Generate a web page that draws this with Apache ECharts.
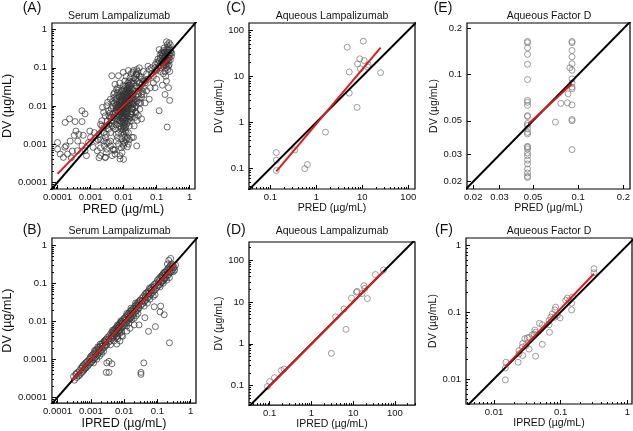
<!DOCTYPE html>
<html><head><meta charset="utf-8">
<script src="https://cdn.jsdelivr.net/npm/echarts@6/dist/echarts.min.js"></script>
<style>html,body{margin:0;padding:0;background:#fff}#c{width:633px;height:431px}</style>
</head><body><div id="c"></div>
<script>
// ---------------- DATA ([predicted, observed] in µg/mL) ----------------
const serumPredDv = [
[0.12,0.15],[0.15,0.2],[0.18,0.25],[0.2,0.3],[0.22,0.18],[0.25,0.22],[0.17,0.12],[0.14,0.1],[0.19,0.14],[0.21,0.4],[0.23,0.35],[0.16,0.28],[0.13,0.22],[0.11,0.13],[0.1,0.09],[0.24,0.12],[0.26,0.16],[0.28,0.2],[0.2,0.1],[0.18,0.08],[0.15,0.16],[0.17,0.18],[0.19,0.2],[0.22,0.25],[0.21,0.13],[0.16,0.11],[0.14,0.14],[0.12,0.11],[0.25,0.3],[0.27,0.28],[0.23,0.15],[0.2,0.22],[0.18,0.16],[0.13,0.18],[0.11,0.17],[0.09,0.12],[0.1,0.14],[0.15,0.13],[0.24,0.45],[0.2,0.48],[0.26,0.4],[0.17,0.33],[0.14,0.25],[0.12,0.3],[0.22,0.09],[0.25,0.08],[0.16,0.07],[0.19,0.06],[0.13,0.08],[0.29,0.24],
[0.17,0.15],[0.19,0.17],[0.21,0.19],[0.23,0.21],[0.18,0.2],[0.2,0.26],[0.22,0.3],[0.16,0.22],[0.15,0.24],[0.24,0.18],[0.26,0.25],[0.21,0.16],[0.17,0.25],[0.19,0.12],[0.23,0.11],
[0.2,0.045],[0.23,0.03],[0.25,0.014],[0.18,0.02],[0.21,0.0028],[0.12,0.0075],[0.15,0.035],[0.1,0.05],[0.08,0.06],[0.09,0.03],
[0.03,0.06],[0.04,0.08],[0.05,0.07],[0.035,0.05],[0.06,0.09],[0.045,0.04],[0.07,0.1],[0.025,0.07],[0.03,0.04],[0.055,0.05],[0.065,0.03],[0.04,0.03],[0.05,0.025],[0.08,0.04],[0.06,0.015],[0.045,0.012],[0.035,0.02],[0.025,0.09],[0.02,0.085],[0.03,0.1],[0.055,0.11],[0.07,0.07],[0.09,0.1],[0.1,0.085],
[0.004,0.002],[0.0045,0.003],[0.005,0.004],[0.0042,0.005],[0.0055,0.007],[0.006,0.008],[0.0048,0.01],[0.0052,0.012],[0.0058,0.015],[0.005,0.02],[0.0044,0.0035],[0.0056,0.0025],[0.0047,0.006],[0.006,0.009],
[0.0065,0.0015],[0.007,0.002],[0.0075,0.003],[0.008,0.004],[0.0085,0.005],[0.0068,0.006],[0.0072,0.007],[0.0078,0.008],[0.0082,0.01],[0.0088,0.012],[0.0062,0.014],[0.0074,0.017],[0.008,0.02],[0.0086,0.025],[0.0066,0.03],[0.0076,0.04],[0.0084,0.0025],[0.009,0.0045],[0.007,0.009],[0.0064,0.011],
[0.0095,0.001],[0.01,0.0012],[0.011,0.0015],[0.012,0.002],[0.0098,0.003],[0.0105,0.004],[0.0115,0.005],[0.0125,0.006],[0.0092,0.007],[0.0102,0.008],[0.0112,0.009],[0.0122,0.01],[0.0096,0.011],[0.0108,0.012],[0.0118,0.014],[0.0128,0.016],[0.0094,0.018],[0.0104,0.02],[0.0114,0.025],[0.0124,0.03],[0.01,0.035],[0.011,0.045],[0.012,0.06],[0.0097,0.0035],[0.0107,0.0055],[0.0117,0.013],
[0.013,0.0015],[0.014,0.002],[0.015,0.003],[0.016,0.004],[0.017,0.005],[0.018,0.006],[0.019,0.008],[0.0135,0.01],[0.0145,0.012],[0.0155,0.015],[0.0165,0.018],[0.0175,0.022],[0.0185,0.028],[0.0138,0.035],[0.0148,0.045],[0.0158,0.055],[0.0168,0.07],[0.0178,0.007],[0.0188,0.009],[0.0195,0.025],
[0.021,0.003],[0.022,0.005],[0.023,0.007],[0.024,0.01],[0.025,0.013],[0.026,0.017],[0.027,0.02],[0.028,0.025],[0.029,0.03],[0.021,0.04],[0.023,0.05],[0.025,0.065],[0.027,0.08],[0.029,0.012],[0.022,0.015],
[0.0071,0.0052],[0.0081,0.0065],[0.0091,0.0078],[0.0101,0.0062],[0.0111,0.0072],[0.0121,0.0085],[0.0131,0.0068],[0.0141,0.0082],[0.0079,0.0105],[0.0089,0.0135],[0.0099,0.015],[0.0109,0.017],[0.0119,0.019],[0.0129,0.022],[0.0139,0.026],[0.0073,0.0125],[0.0083,0.0145],[0.0093,0.0165],[0.0103,0.0095],[0.0113,0.011],[0.0123,0.0125],[0.0133,0.0145],[0.0143,0.0175],[0.0153,0.02],[0.0087,0.0038],[0.0097,0.0045],[0.0107,0.0032],[0.0117,0.0042],[0.0127,0.0048],[0.0137,0.0055],[0.0077,0.0035],[0.0069,0.0042],[0.0061,0.0055],[0.0057,0.0065],[0.0063,0.0078],[0.0067,0.0095],[0.0105,0.028],[0.0115,0.033],[0.0095,0.024],[0.0085,0.018],[0.0135,0.04],[0.0145,0.03],[0.016,0.035],[0.017,0.028],[0.018,0.013],[0.019,0.016],[0.02,0.02],[0.02,0.011],
[0.0074,0.0058],[0.0084,0.0072],[0.0094,0.0088],[0.0104,0.0108],[0.0114,0.0125],[0.0124,0.014],[0.0134,0.0165],[0.0091,0.0055],[0.0101,0.0048],[0.0111,0.0062],[0.0121,0.0072],[0.0131,0.0088],[0.0141,0.0102],[0.0151,0.0118],[0.0161,0.0135],[0.0078,0.0135],[0.0088,0.0155],[0.0098,0.0185],[0.0108,0.0215],[0.0118,0.0245],[0.0128,0.0275],[0.0082,0.0085],[0.0092,0.0095],[0.0102,0.0118],[0.0112,0.0142],[0.0122,0.0162],[0.0132,0.0195],[0.0142,0.023],[0.0152,0.027],[0.0162,0.024],[0.0172,0.017],[0.0182,0.019],[0.0192,0.012],[0.0068,0.0075],[0.0072,0.0095],[0.0076,0.0115],[0.0086,0.0028],[0.0096,0.0024],[0.0106,0.0026],[0.0116,0.0028],[0.0126,0.0034],[0.0136,0.0038],[0.0146,0.0045],[0.0156,0.0052],[0.0166,0.0062],[0.0176,0.0085],[0.0186,0.011],[0.0196,0.014],[0.0093,0.0021],[0.0103,0.0018],[0.0113,0.0022],[0.0089,0.0065],[0.0099,0.0072],[0.0109,0.0082],[0.0119,0.0095],[0.0129,0.011],
[0.0042,0.0085],[0.0046,0.013],[0.0051,0.0165],[0.0054,0.0048],[0.0059,0.0032],[0.0053,0.022],[0.0049,0.0028],[0.0043,0.0042],[0.0039,0.0065],[0.0036,0.0033],[0.0058,0.0105],[0.0062,0.0185],[0.0066,0.0225],[0.0071,0.026],[0.0064,0.0045],[0.0023,0.0092],[0.0028,0.0055],[0.0033,0.0125],
[0.022,0.009],[0.024,0.0065],[0.026,0.0042],[0.031,0.0082],[0.033,0.012],[0.035,0.017],[0.038,0.024],[0.032,0.03],[0.036,0.037],[0.04,0.045],[0.042,0.02],[0.03,0.015],[0.028,0.0056],[0.024,0.033],[0.021,0.055],[0.019,0.045],[0.026,0.044],[0.018,0.038],[0.017,0.042],[0.015,0.024],
[0.0055,0.037],[0.0061,0.027],[0.004,0.015],[0.0031,0.0101],[0.0025,0.0068],[0.0036,0.0056],[0.0044,0.062],[0.007,0.062],[0.0098,0.076],[0.014,0.085],[0.019,0.076],[0.024,0.068],[0.034,0.056],[0.044,0.046],
[0.002,0.0008],[0.003,0.0006],[0.004,0.0009],[0.005,0.0007],[0.0035,0.0011],[0.006,0.0012],[0.007,0.001],[0.0085,0.0008],[0.01,0.0009],[0.011,0.0011],[0.012,0.0013],[0.009,0.0006],[0.01,0.0004],[0.0045,0.0005],[0.002,0.0005],[0.0028,0.00045],[0.015,0.0013],[0.02,0.0015],[0.025,0.0009],[0.009,0.0014],[0.006,0.0018],[0.0025,0.0012],
[0.0025,0.002],[0.003,0.003],[0.0035,0.0025],[0.0028,0.0015],[0.0032,0.004],[0.0038,0.005],[0.002,0.0013],[0.0022,0.003],[0.0018,0.0018],[0.0015,0.0012],[0.003,0.0018],[0.0035,0.0075],[0.004,0.0012],[0.0026,0.0009],
[0.0001,0.0011],[0.0001,0.00074],[0.000166,0.00083],[0.00015,0.00045],[0.0002,0.00055],[0.00024,0.0012],[0.00032,0.0017],[0.00017,0.0037],[0.00023,0.0046],[0.00034,0.0039],[0.00055,0.0075],[0.00068,0.0062],[0.00055,0.0039],[0.00036,0.0022],[0.00044,0.0018],[0.0006,0.0017],[0.00095,0.0022],[0.001,0.0015],[0.00086,0.0011],[0.00055,0.0009],[0.0004,0.00067],[0.00068,0.00067],[0.0012,0.00082],[0.0016,0.00067],[0.0018,0.00044],[0.00075,0.0005],[0.00028,0.00066],[0.00026,0.00044],[0.00012,0.00055],[0.00018,0.0009],[0.00041,0.0012],[0.0013,0.002],[0.002,0.0033],[0.0022,0.0041],[0.0025,0.0027],[0.0017,0.0013],[0.0031,0.00074],[0.0028,0.00045],[0.0048,0.00074],[0.0055,0.00055],[0.0031,0.0011],
[0.035,0.0046],[0.018,0.0015],[0.013,0.00085],[0.014,0.001],[0.0078,0.00041],[0.0078,0.0005],[0.0055,0.0007]
];
const serumIpredDv = [
[0.0003,0.00035],[0.00032,0.00028],[0.00035,0.0004],[0.00038,0.00033],[0.0004,0.00045],[0.00042,0.00036],[0.00045,0.0005],[0.00048,0.0004],[0.0005,0.00058],[0.00052,0.00044],[0.00055,0.0006],[0.00058,0.00048],[0.0006,0.0007],[0.00062,0.00052],[0.00065,0.00075],[0.00068,0.00058],[0.0007,0.0008],[0.00072,0.0006],[0.00075,0.00085],[0.00078,0.00065],[0.0008,0.0009],[0.00085,0.0007],[0.0009,0.001],[0.00092,0.00078],[0.00095,0.0011],[0.00098,0.0008],[0.00036,0.00042],[0.00044,0.00038],[0.00056,0.00066],[0.00066,0.00056],
[0.001,0.0012],[0.00105,0.00085],[0.0011,0.0013],[0.00115,0.00095],[0.0012,0.0014],[0.00125,0.001],[0.0013,0.0015],[0.00135,0.0011],[0.0014,0.0017],[0.00145,0.0012],[0.0015,0.0018],[0.0016,0.0013],[0.0017,0.002],[0.0018,0.0015],[0.0019,0.0022],[0.002,0.0016],[0.0021,0.0025],[0.0022,0.0018],[0.0023,0.0027],[0.0024,0.002],[0.0025,0.003],[0.0026,0.0021],[0.0027,0.0032],[0.0028,0.0023],[0.0029,0.0034],[0.003,0.0024],[0.0012,0.0008],[0.0015,0.001],[0.0018,0.0012],[0.0021,0.0014],[0.0024,0.0016],[0.0013,0.0017],[0.0016,0.0021],[0.0019,0.0025],[0.0026,0.0029],[0.0011,0.0011],[0.0014,0.0014],[0.0017,0.0017],[0.0022,0.0022],[0.0028,0.0028],
[0.0032,0.0038],[0.0034,0.0028],[0.0036,0.0042],[0.0038,0.003],[0.004,0.0048],[0.0042,0.0034],[0.0044,0.0052],[0.0046,0.0037],[0.0048,0.0056],[0.005,0.004],[0.0052,0.0062],[0.0054,0.0044],[0.0056,0.0066],[0.0058,0.0047],[0.006,0.007],[0.0062,0.005],[0.0065,0.0075],[0.0068,0.0055],[0.007,0.0082],[0.0072,0.0058],[0.0075,0.0088],[0.0078,0.0062],[0.008,0.0095],[0.0083,0.0066],[0.0086,0.01],[0.009,0.0072],[0.0093,0.011],[0.0096,0.0076],[0.0035,0.0035],[0.0041,0.0041],[0.0047,0.0047],[0.0053,0.0053],[0.0059,0.0059],[0.0066,0.0066],[0.0073,0.0073],[0.0081,0.0081],[0.0089,0.0089],[0.0039,0.0024],[0.0049,0.003],[0.0057,0.0038],[0.0064,0.004],[0.0074,0.0048],[0.0084,0.0052],[0.0045,0.0058],[0.0063,0.008],[0.0079,0.0102],
[0.01,0.012],[0.0105,0.0085],[0.011,0.013],[0.0115,0.0092],[0.012,0.014],[0.0125,0.01],[0.013,0.0155],[0.0135,0.011],[0.014,0.0165],[0.0145,0.0115],[0.015,0.018],[0.0155,0.012],[0.016,0.019],[0.0165,0.013],[0.017,0.02],[0.018,0.014],[0.019,0.022],[0.02,0.016],[0.021,0.025],[0.022,0.018],[0.023,0.027],[0.024,0.019],[0.025,0.03],[0.026,0.021],[0.027,0.032],[0.028,0.022],[0.029,0.034],[0.011,0.011],[0.013,0.013],[0.015,0.015],[0.018,0.018],[0.021,0.021],[0.024,0.024],[0.027,0.027],[0.012,0.0075],[0.014,0.009],[0.017,0.011],[0.02,0.012],[0.023,0.014],[0.026,0.016],[0.012,0.016],[0.016,0.022],[0.022,0.03],
[0.03,0.036],[0.032,0.026],[0.034,0.04],[0.036,0.029],[0.038,0.045],[0.04,0.032],[0.042,0.05],[0.045,0.036],[0.048,0.056],[0.05,0.04],[0.053,0.062],[0.056,0.045],[0.06,0.07],[0.063,0.05],[0.067,0.078],[0.07,0.056],[0.074,0.086],[0.078,0.062],[0.082,0.095],[0.086,0.068],[0.09,0.1],[0.095,0.075],[0.035,0.035],[0.044,0.044],[0.055,0.055],[0.065,0.065],[0.08,0.08],[0.04,0.025],[0.05,0.03],[0.06,0.038],[0.075,0.045],[0.085,0.05],[0.045,0.055],[0.058,0.075],
[0.1,0.12],[0.105,0.085],[0.11,0.13],[0.115,0.09],[0.12,0.14],[0.125,0.1],[0.13,0.155],[0.135,0.105],[0.14,0.165],[0.145,0.115],[0.15,0.18],[0.155,0.12],[0.16,0.19],[0.165,0.13],[0.17,0.2],[0.18,0.14],[0.19,0.22],[0.2,0.16],[0.21,0.25],[0.22,0.17],[0.23,0.27],[0.24,0.19],[0.25,0.3],[0.26,0.2],[0.27,0.32],[0.28,0.22],[0.3,0.25],[0.32,0.26],[0.35,0.3],[0.11,0.11],[0.14,0.14],[0.17,0.17],[0.2,0.2],[0.24,0.24],[0.28,0.28],[0.22,0.4],[0.25,0.45],[0.2,0.32],[0.12,0.08],[0.15,0.1],[0.19,0.12],[0.23,0.14],[0.3,0.2],[0.33,0.22],
[0.125,0.025],[0.08,0.024],[0.12,0.0175],[0.16,0.0148],[0.087,0.0072],[0.054,0.0054],[0.23,0.0027],[0.039,0.0008],[0.032,0.00045],[0.032,0.0004],[0.0029,0.00045],[0.0035,0.00045],[0.0043,0.00076],[0.0035,0.00088],[0.003,0.0008],[0.028,0.008],[0.042,0.0124],[0.006,0.0025],[0.0075,0.003],[0.009,0.004],[0.012,0.0055],[0.015,0.0065],[0.02,0.008],[0.0065,0.0035],[0.0085,0.0042]
];
const aqLampPredDv = [[4.7,43],[10.5,58],[8.8,24],[7.9,18.6],[11,22],[9.1,14.5],[13.5,17.8],[13,16],[5.2,12.4],[25,12],[5.2,4.3],[7.7,2.1],[1.58,0.61],[0.34,0.25],[0.135,0.22],[0.135,0.15],[0.135,0.089],[0.64,0.12],[0.56,0.098]];
const aqLampIpredDv = [[53,58],[34,45],[18,24.3],[19,21],[12.4,17.8],[12,17],[16.3,15.8],[21.9,12],[9.1,12.3],[6,6.8],[3.8,4.4],[6.7,2.2],[3,0.59],[0.19,0.23],[0.22,0.25],[0.13,0.155],[0.1,0.125],[0.088,0.095]];
const aqFdPredDv = [
[0.046,0.165],[0.046,0.162],[0.046,0.15],[0.046,0.136],[0.046,0.117],[0.046,0.093],[0.046,0.068],[0.046,0.066],[0.046,0.063],[0.046,0.054],[0.046,0.0533],[0.046,0.048],[0.046,0.0466],[0.046,0.0443],[0.046,0.042],[0.046,0.041],[0.046,0.034],[0.046,0.0336],[0.046,0.0327],[0.046,0.0308],[0.046,0.0296],[0.046,0.0277],[0.046,0.0261],[0.046,0.0242],[0.046,0.0228],[0.046,0.0217],[0.046,0.0213],
[0.091,0.165],[0.091,0.162],[0.091,0.144],[0.091,0.131],[0.091,0.118],[0.091,0.107],[0.091,0.094],[0.091,0.088],[0.091,0.083],[0.091,0.081],[0.091,0.0635],[0.091,0.051],[0.091,0.05],[0.091,0.0324],
[0.088,0.111],[0.0857,0.075],[0.0848,0.0655],[0.0766,0.065],[0.0706,0.049]
];
const aqFdIpredDv = [[0.316,0.447],[0.316,0.389],[0.15,0.168],[0.126,0.162],[0.136,0.15],[0.146,0.136],[0.119,0.15],[0.146,0.108],[0.084,0.119],[0.082,0.108],[0.075,0.094],[0.089,0.089],[0.098,0.082],[0.082,0.084],[0.071,0.084],[0.067,0.065],[0.068,0.05],[0.053,0.065],[0.048,0.068],[0.041,0.054],[0.04,0.047],[0.042,0.05],[0.0376,0.046],[0.0335,0.042],[0.0316,0.041],[0.0335,0.028],[0.03,0.0316],[0.053,0.033],[0.042,0.0219],[0.027,0.034],[0.0266,0.03],[0.0237,0.0266],[0.0237,0.0237],[0.023,0.0178],[0.027,0.0224],[0.0151,0.0178],[0.0148,0.0146],[0.0148,0.0097],[0.029,0.04],[0.067,0.075]];
// linear-regression (red) lines: [start, end]
const fitSerumPred = [[0.0001,0.000166],[0.27,0.19]];
const fitSerumIpred = [[0.00028,0.00028],[0.36,0.33]];
const fitAqLampPred = [[0.135,0.086],[25,42]];
const fitAqLampIpred = [[0.09,0.088],[53,53]];
const fitAqFdPred = [[0.0467,0.0478],[0.091,0.0873]];
const fitAqFdIpred = [[0.0148,0.0153],[0.316,0.376]];
// tick labels
const ticksSerum = [0.0001,0.001,0.01,0.1,1];
const ticksAqLamp = [0.1,1,10,100];
const ticksAqFdPred = [0.02,0.03,0.05,0.1,0.2];
const ticksAqFdIpred = [0.01,0.1,1];
// texts
const letters = ['(A)','(B)','(C)','(D)','(E)','(F)'];
const titles = ['Serum Lampalizumab','Serum Lampalizumab','Aqueous Lampalizumab','Aqueous Lampalizumab','Aqueous Factor D','Aqueous Factor D'];
const xNames = ['PRED (µg/mL)','IPRED (µg/mL)','PRED (µg/mL)','IPRED (µg/mL)','PRED (µg/mL)','IPRED (µg/mL)'];
const yName = 'DV (µg/mL)';

// ---------------- LAYOUT ----------------
const FONT = "'Liberation Sans', Arial, Helvetica, sans-serif";
const L = v => Math.log10(v);
const panels = [
 {data:serumPredDv, fit:fitSerumPred, xt:ticksSerum, yt:ticksSerum, grid:[43,23,152,166], x:[-4.17,0.165], y:[-4.175,0.173], nameSize:12.5, xGap:13, yGap:27, letter:[32,8], titleXY:[119,16], col:'#333', minor:true},
 {data:serumIpredDv, fit:fitSerumIpred, xt:ticksSerum, yt:ticksSerum, grid:[43,238,153,167], x:[-4.17,0.16], y:[-4.155,0.19], nameSize:12.5, xGap:13, yGap:27, letter:[32,230], titleXY:[119.5,231.5], col:'#333', minor:true},
 {data:aqLampPredDv, fit:fitAqLampPred, xt:ticksAqLamp, yt:ticksAqLamp, grid:[249,23,166,166], x:[-1.464,2.146], y:[-1.451,2.159], nameSize:10.5, xGap:14, yGap:17, letter:[236,8], titleXY:[332,16], col:'#777', minor:true},
 {data:aqLampIpredDv, fit:fitAqLampIpred, xt:ticksAqLamp, yt:ticksAqLamp, grid:[249,242,166,164], x:[-1.496,2.48], y:[-1.465,2.43], nameSize:10.5, xGap:12, yGap:17, letter:[236,230], titleXY:[332,231.5], col:'#777', minor:true},
 {data:aqFdPredDv, fit:fitAqFdPred, xt:ticksAqFdPred, yt:ticksAqFdPred, grid:[467,23,165,166], x:[-1.74,-0.655], y:[-1.747,-0.662], nameSize:10.5, xGap:9, yGap:25, letter:[443,8], titleXY:[549,16], col:'#777', minor:false},
 {data:aqFdIpredDv, fit:fitAqFdIpred, xt:ticksAqFdIpred, yt:ticksAqFdIpred, grid:[466,238,166,166], x:[-2.42,0.07], y:[-2.375,0.11], nameSize:10.5, xGap:8, yGap:20, letter:[444,230], titleXY:[549,231.5], col:'#777', minor:true}
];

function minorLogs(range){
  const out=[];
  for(let d=Math.floor(range[0]); d<=Math.ceil(range[1]); d++){
    for(let k=2;k<=9;k++){ const v=Math.log10(k)+d; if(v>range[0]&&v<range[1]) out.push(v); }
  }
  return out;
}
const fmt = v => String(Number(Math.pow(10, v).toPrecision(2)));

const grids=[], xAxes=[], yAxes=[], series=[], graphics=[];
panels.forEach((p,i)=>{
  grids.push({left:p.grid[0], top:p.grid[1], width:p.grid[2], height:p.grid[3], show:true, borderColor:'#000', borderWidth:1.2, backgroundColor:'rgba(0,0,0,0)'});
  const common = (range, ticks, name, gap, isY) => ({
    type:'value', gridIndex:i, min:range[0], max:range[1], position: isY?'left':'bottom',
    axisLine:{show:false, onZero:false}, splitLine:{show:false},
    axisTick:{show:true, inside:true, length:4, customValues:ticks.map(L), lineStyle:{color:'#000', width:1}},
    axisLabel:{customValues:ticks.map(L), formatter:fmt, fontSize:9.5, color:'#111', fontFamily:FONT, margin:isY?5:3, hideOverlap:false},
    name:name, nameLocation:'middle', nameGap:gap, nameRotate:isY?90:0,
    nameTextStyle:{fontSize:p.nameSize, fontFamily:FONT, color:'#111'}
  });
  const minorAx = (range, isY) => ({
    type:'value', gridIndex:i, min:range[0], max:range[1], position:isY?'left':'bottom', offset:0,
    axisLine:{show:false, onZero:false}, splitLine:{show:false},
    axisLabel:{show:true, customValues:minorLogs(range), formatter:()=>''},
    axisTick:{show:p.minor, inside:true, length:2, customValues:minorLogs(range), lineStyle:{color:'#000', width:1}}
  });
  xAxes.push(common(p.x, p.xt, xNames[i], p.xGap, false));
  xAxes.push(minorAx(p.x,false));
  yAxes.push(common(p.y, p.yt, yName, p.yGap, true));
  yAxes.push(minorAx(p.y,true));
  const ax = 2*i;
  series.push({type:'scatter', xAxisIndex:ax, yAxisIndex:ax, symbol:'circle', symbolSize:6,
    itemStyle:{color:'rgba(0,0,0,0)', borderColor:p.col, borderWidth:0.9},
    data:p.data.map(d=>[L(d[0]),L(d[1])]), silent:true, z:2});
  series.push({type:'line', xAxisIndex:ax, yAxisIndex:ax, symbol:'none', clip:true,
    lineStyle:{color:'#000', width:2}, data:[[-6,-6],[3,3]], silent:true, z:3});
  series.push({type:'line', xAxisIndex:ax, yAxisIndex:ax, symbol:'none', clip:true,
    lineStyle:{color:'#d81e1e', width:2}, data:p.fit.map(d=>[L(d[0]),L(d[1])]), silent:true, z:4});
  graphics.push({type:'text', x:p.letter[0], y:p.letter[1], style:{text:letters[i], font:'14px '+FONT, fill:'#111', align:'center', verticalAlign:'middle'}});
  graphics.push({type:'text', x:p.titleXY[0], y:p.titleXY[1], style:{text:titles[i], font:'10.5px '+FONT, fill:'#111', align:'center', verticalAlign:'middle'}});
});

const chart = echarts.init(document.getElementById('c'), null, {renderer:'canvas'});
chart.setOption({animation:false, backgroundColor:'#fff', grid:grids, xAxis:xAxes, yAxis:yAxes, series:series, graphic:graphics});
</script></body></html>
